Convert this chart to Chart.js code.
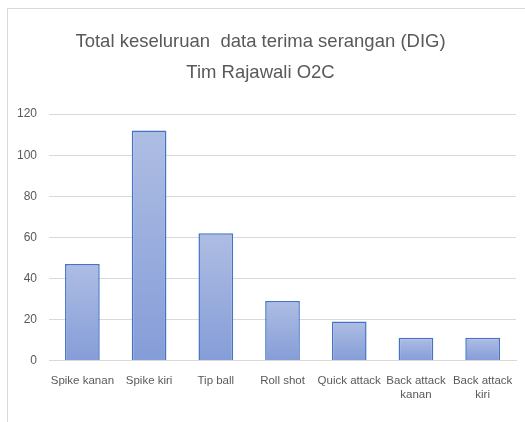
<!DOCTYPE html>
<html>
<head>
<meta charset="utf-8">
<script src="https://cdn.jsdelivr.net/npm/chart.js@4"></script>
<style>
  html, body { margin: 0; padding: 0; background: #fff; overflow: hidden; }
  #frame {
    position: absolute; left: 7px; top: 8px; width: 530px; height: 430px;
    border: 1px solid #d9d9d9; box-sizing: border-box;
  }
  #wrap { position: absolute; left: 7px; top: 8px; width: 525px; height: 414px; }
</style>
</head>
<body>
<div id="frame"></div>
<div id="wrap"><canvas id="chart"></canvas></div>
<script>
// Data
const categories = ["Spike kanan", "Spike kiri", "Tip ball", "Roll shot", "Quick attack",
  ["Back attack", "kanan"], ["Back attack", "kiri"]];
const totals = [47, 112, 62, 29, 19, 11, 11];
const titleLines = ["Total keseluruan  data terima serangan (DIG)", "Tim Rajawali O2C"];

const FONT = "'Liberation Sans', sans-serif";

// gradient per bar, light at top, darker at the base
function barFill(ctx) {
  const chart = ctx.chart;
  if (!chart.chartArea || ctx.dataIndex === undefined) return "#97abdc";
  const y = chart.scales.y;
  const top = y.getPixelForValue(ctx.raw);
  const base = y.getPixelForValue(0);
  const g = chart.ctx.createLinearGradient(0, top, 0, base);
  g.addColorStop(0, "#aebde3");
  g.addColorStop(1, "#859dd8");
  return g;
}

new Chart(document.getElementById("chart"), {
  type: "bar",
  data: {
    labels: categories,
    datasets: [{
      label: "DIG",
      data: totals,
      backgroundColor: barFill,
      borderColor: "#4472c4",
      borderWidth: 1.5,
      categoryPercentage: 1,
      barPercentage: 0.52
    }]
  },
  options: {
    responsive: true,
    maintainAspectRatio: false,
    animation: false,
    layout: { padding: { left: -2, right: 16, top: 12, bottom: 14 } },
    plugins: {
      legend: { display: false },
      tooltip: { enabled: false },
      title: {
        display: true,
        text: titleLines,
        color: "#595959",
        font: { family: FONT, size: 18.5, weight: "normal", lineHeight: 1.68 },
        padding: { top: 6, bottom: 26 }
      }
    },
    scales: {
      x: {
        grid: { display: false },
        border: { color: "#d9d9d9", width: 1 },
        ticks: { color: "#595959", font: { family: FONT, size: 11.5 }, maxRotation: 0, autoSkip: false, padding: 6 }
      },
      y: {
        min: 0,
        max: 120,
        ticks: { stepSize: 20, color: "#595959", font: { family: FONT, size: 12 }, padding: 12 },
        grid: { color: "#d9d9d9", drawTicks: false },
        border: { display: false }
      }
    }
  }
});
</script>
</body>
</html>
